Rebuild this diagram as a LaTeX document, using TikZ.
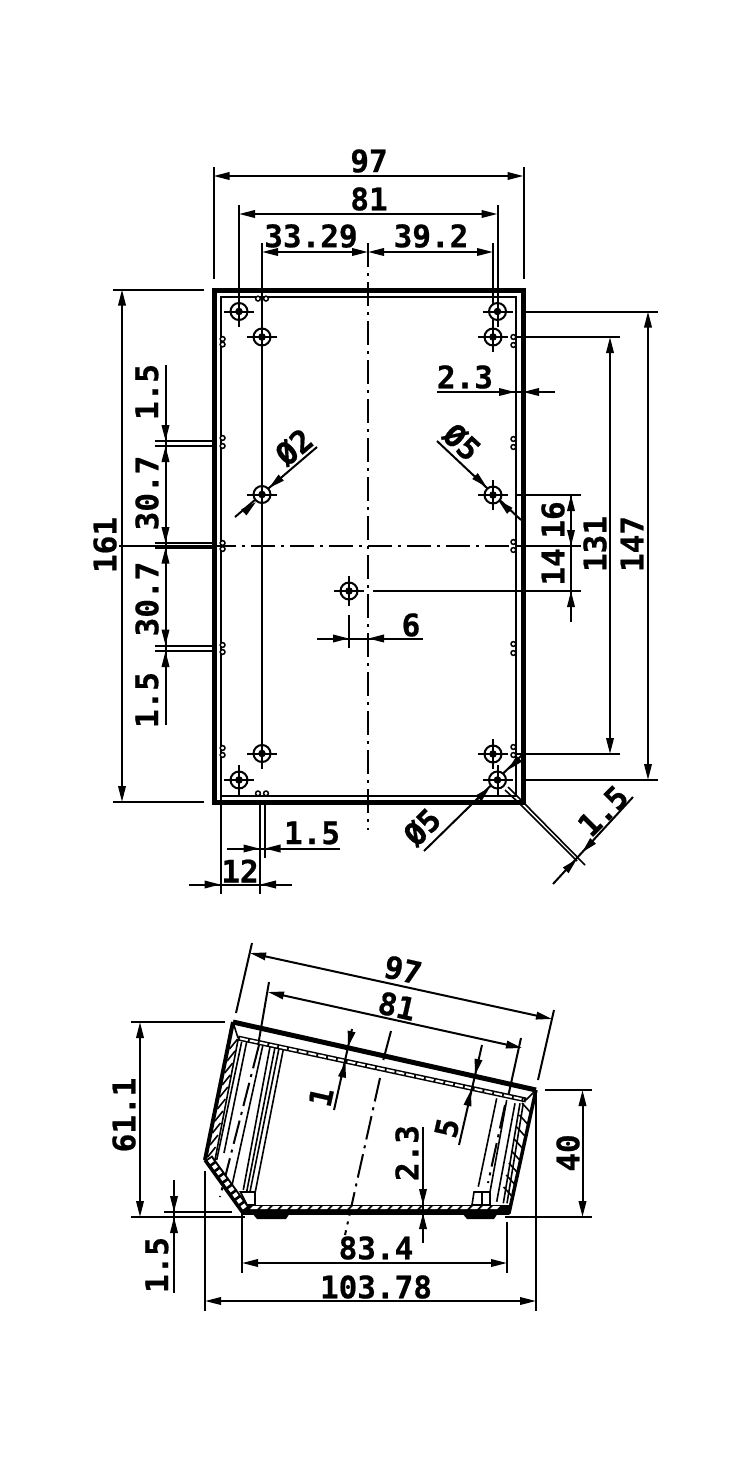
\documentclass[tikz,border=0pt]{standalone}
\usepackage{fontspec}
\setmainfont{DejaVu Sans Mono}[BoldFont={DejaVu Sans Mono Bold}]
\usetikzlibrary{arrows.meta,calc}
\newcommand{\lblfont}{\fontsize{31}{31}\selectfont\bfseries\addfontfeature{FakeBold=0.6}}
\tikzset{
  tipa/.tip={Triangle[length=16pt,width=7.5pt]},
  lbl/.style={font=\lblfont,inner sep=0pt,text=black},
  dimline/.style={line width=2pt,black},
  both/.style={dimline,tipa-tipa},
  toend/.style={dimline,-tipa},
  ext/.style={line width=2pt,black},
  dashdotline/.style={line width=2pt,black,dash pattern=on 24pt off 6pt on 3pt off 6pt},
  thin1/.style={line width=1.6pt,black},
}
\begin{document}
\begin{tikzpicture}[x=1pt,y=-1pt]
\useasboundingbox[fill=white] (0,0) rectangle (750,1462);

%% ---------- TOP VIEW ----------
\draw[line width=5pt,line join=miter] (214,290) rectangle (523,802);
\draw[line width=2pt] (220.5,296.5) rectangle (515.5,795.5);
% corner chamfer
\draw[thin1] (505,790) -- (520,804);
\draw[thin1] (508,787) -- (522,801);

% small pairs of circles
\foreach \y in {339,344.5,438,446,543,549,645,652,748,755}
  \draw[line width=1.5pt,fill=white] (222.6,\y) circle (2.4);
\foreach \y in {337,345,439,447,542,550,644,653,747,755}
  \draw[line width=1.5pt,fill=white] (513.4,\y) circle (2.4);
\foreach \x in {258,266} {
  \draw[line width=1.5pt,fill=white] (\x,298.6) circle (2.4);
  \draw[line width=1.5pt,fill=white] (\x,793.4) circle (2.4);
}

% centre lines
\draw[dashdotline] (368,243) -- (368,830);
\draw[dashdotline] (212,546) -- (512,546);
\draw[ext] (119,546) -- (212,546);
\draw[ext] (517,546) -- (581,546);

% extension lines top
\draw[ext] (213.5,167) -- (213.5,279);
\draw[ext] (523.5,167) -- (523.5,279);
\draw[ext] (239,205) -- (239,311);
\draw[ext] (497.5,205) -- (497.5,311);
\draw[ext] (262,243) -- (262,758);
\draw[ext] (493,243) -- (493,337);
\draw[ext] (239,780) -- (239,795);

% dims top
\draw[both] (213.5,176) -- (523.5,176);
\draw[both] (239,214) -- (497.5,214);
\draw[both] (262,252) -- (368,252);
\draw[both] (368,252) -- (493,252);
\node[lbl] (t97a) at (369,161) {97};
\node[lbl] (t81a) at (369,199) {81};
\node[lbl] (t3329) at (311,236) {33.29};
\node[lbl] (t392) at (431,236) {39.2};

% left dims
\draw[ext] (113,289.5) -- (204,289.5);
\draw[ext] (113,802) -- (204,802);
\draw[both] (122,289.5) -- (122,802);
\node[lbl,rotate=90] (t161) at (105,545) {161};

\foreach \y in {441,446,543,547.5,645.5,651}
  \draw[ext] (155,\y) -- (212,\y);
\draw[dimline] (165.5,365) -- (165.5,725);
\foreach \a/\b in {425/441, 462/446, 527/543, 563.5/547.5, 629.5/645.5, 667/651}
  \draw[toend] (165.5,\a) -- (165.5,\b);
\node[lbl,rotate=90] (t15a) at (147,392) {1.5};
\node[lbl,rotate=90] (t307a) at (147,493) {30.7};
\node[lbl,rotate=90] (t307b) at (147,599) {30.7};
\node[lbl,rotate=90] (t15b) at (147,700) {1.5};

% right dims
\draw[ext] (525,311.5) -- (658,311.5);
\draw[ext] (525,780) -- (658,780);
\draw[both] (648,311.5) -- (648,780);
\node[lbl,rotate=90] (t147) at (632,544) {147};
\draw[ext] (516,337) -- (619.5,337);
\draw[ext] (516,754) -- (619.5,754);
\draw[both] (610,337) -- (610,754);
\node[lbl,rotate=90] (t131) at (595,544) {131};
\draw[ext] (517,495) -- (581,495);
\draw[ext] (373,591) -- (581,591);
\draw[dimline] (571,495) -- (571,622);
\draw[toend] (571,511) -- (571,495);
\draw[toend] (571,530) -- (571,546);
\draw[toend] (571,607) -- (571,591);
\node[lbl,rotate=90] (t16) at (553,520) {16};
\node[lbl,rotate=90] (t14) at (553,567) {14};

% 2.3
\draw[dimline] (437,392) -- (555,392);
\draw[toend] (499,392) -- (515,392);
\draw[toend] (539,392) -- (523,392);
\node[lbl] (t23a) at (465,377) {2.3};

% diameters
\draw[dimline] (235,517) -- (317,447);
\draw[toend] (243.8,512.4) -- (256,502);
\draw[toend] (281.2,477.6) -- (269,488);
\node[lbl,rotate=40] (td2) at (294,447) {Ø2};

\draw[dimline] (437,441) -- (521,520);
\draw[toend] (475,476) -- (486.7,487);
\draw[toend] (510,511) -- (498,500);
\node[lbl,rotate=-43] (td5a) at (462,442) {Ø5};

\draw[dimline] (424,851) -- (523,754);
\draw[toend] (478,799) -- (490,787);
\draw[toend] (519,759) -- (508,770);
\node[lbl,rotate=45] (td5b) at (422,827) {Ø5};

% diagonal 1.5
\draw[thin1] (520,804) -- (577,861);
\draw[thin1] (522,801) -- (585,865);
\draw[dimline] (553,884) -- (633,797);
\draw[toend] (566,870) -- (577,859);
\draw[toend] (593,841) -- (582,852.5);
\node[lbl,rotate=45] (t15c) at (603,811) {1.5};

% 1.5 and 12 below
\draw[ext] (260,802) -- (260,894);
\draw[ext] (264.5,802) -- (264.5,858);
\draw[ext] (220.5,796) -- (220.5,894);
\draw[dimline] (227,848.5) -- (340,848.5);
\draw[toend] (243.5,848.5) -- (259.5,848.5);
\draw[toend] (280.5,848.5) -- (264.5,848.5);
\node[lbl] (t15d) at (312,833) {1.5};
\draw[dimline] (189,884.5) -- (292,884.5);
\draw[toend] (204.5,884.5) -- (220.5,884.5);
\draw[toend] (276,884.5) -- (260,884.5);
\node[lbl] (t12) at (240,871) {12};

% 6
\draw[ext] (349,615) -- (349,648);
\draw[dimline] (317,638.5) -- (423,638.5);
\draw[toend] (333,638.5) -- (349,638.5);
\draw[toend] (384,638.5) -- (368,638.5);
\node[lbl] (t6) at (411,625) {6};

% holes
\foreach \hx/\hy in {239/311.5,262/337,262/494.5,497.5/311.5,493/337,493/495,349/591,262/753.5,239/780,493/754,497.5/780} {
  \fill[white] (\hx,\hy) circle (8);
  \draw[line width=2pt] (\hx,\hy) circle (8.5);
  \fill (\hx,\hy) circle (3.8);
  \draw[line width=2pt] (\hx-15,\hy) -- (\hx+15,\hy) (\hx,\hy-15) -- (\hx,\hy+15);
}

%% ---------- SIDE VIEW ----------
% inner lines left group
\draw[thin1] (238,1040) -- (215,1160);
\draw[thin1] (241.7,1041.7) -- (216.7,1160);
\draw[thin1] (246.7,1041.7) -- (224,1153);
\draw[thin1] (263.3,1043.3) -- (231.7,1186.7);
\draw[thin1] (270,1046.7) -- (243.3,1190);
\draw[thin1] (275,1047.3) -- (246.7,1191.7);
\draw[thin1] (279,1048.3) -- (250,1191.7);
\draw[thin1] (283.3,1049.3) -- (255,1193.3);
% inner lines right group
\draw[thin1] (496.7,1098.3) -- (478.3,1186.7);
\draw[thin1] (506.7,1100) -- (490,1192);
\draw[thin1] (515,1103.3) -- (496.7,1201.7);
\draw[thin1] (520,1103.3) -- (503.3,1203.3);
\draw[thin1] (523.3,1103.3) -- (507,1203.3);

% centre/hole lines (tilted)
\draw[ext] (269,982) -- (259,1040);
\draw[dashdotline] (259,1045) -- (220,1197);
\draw[ext] (521,1038) -- (508,1097);
\draw[dashdotline] (505,1105) -- (488,1183);
\draw[ext] (391,1031) -- (383.3,1060);
\draw[dashdotline] (380,1078) -- (345,1235);

% posts
\draw[thin1,fill=white] (240.5,1192) -- (255,1192) -- (255,1205) -- (247,1205) -- cycle;
\draw[thin1,fill=white] (474,1192) -- (490,1192) -- (490,1205) -- (472,1205) -- cycle;
\draw[thin1] (482,1192) -- (482,1205);

% walls hatching
\foreach \y in {1044,1056,...,1152}
  \draw[thin1] ({233-(\y-1022)*0.2029+1},{\y+5}) -- ({233-(\y-1022)*0.2029+9},{\y-5});
\foreach \y in {1108,1120,...,1200}
  \draw[thin1] ({536-(\y-1090)*0.2195-1},{\y+5}) -- ({536-(\y-1090)*0.2195-10},{\y-5});

% lid under-line
\draw[line width=5pt] (238,1038) -- (526,1100);
\draw[white,line width=2pt,dash pattern=on 8pt off 2pt] (240,1038.4) -- (524,1099.6);

% bottom
\fill (243,1205) rectangle (509,1213);
\foreach \x in {250,260,...,495}
  \fill[white] (\x,1209) -- (\x+7,1209) -- (\x+10,1206.2) -- (\x+3,1206.2) -- cycle;
% chamfer band
\draw[line width=9pt] (208.5,1158) -- (246.5,1210.7);
\draw[white,line width=5pt,dash pattern=on 4pt off 3pt] (209.5,1159.5) -- (245,1208.5);

% feet
\fill (252,1213) -- (290,1213) -- (286,1219) -- (257,1219) -- cycle;
\fill (462,1213) -- (498,1213) -- (494,1219) -- (467,1219) -- cycle;

% outline
\draw[line width=5pt,line join=round] (233,1022) -- (536,1090);
\draw[line width=4pt,line join=round] (205,1160) -- (233,1022);
\draw[line width=3.5pt,line join=round] (536,1090) -- (509,1213) -- (243,1213) -- (205,1160);
\draw[thin1] (233,1022) -- (238,1038);
\draw[thin1] (536,1090) -- (526,1100);

% extension lines
\draw[ext] (131,1022) -- (225,1022);
\draw[ext] (131,1217) -- (245,1217);
\draw[ext] (505,1217) -- (592,1217);
\draw[ext] (164,1212) -- (232,1212);
\draw[ext] (545,1090) -- (592,1090);
\draw[ext] (242,1212) -- (242,1273);
\draw[ext] (507,1222) -- (507,1273);
\draw[ext] (205,1171) -- (205,1311);
\draw[ext] (536,1092) -- (536,1311);
\draw[ext] (252,943) -- (236,1013);
\draw[ext] (554,1010) -- (538,1080);

% dims side
\draw[both] (140,1022) -- (140,1217);
\node[lbl,rotate=90] (t611) at (124,1115) {61.1};
\draw[dimline] (174,1180) -- (174,1293);
\draw[toend] (174,1196) -- (174,1212);
\draw[toend] (174,1233) -- (174,1217);
\node[lbl,rotate=90] (t15e) at (157,1265) {1.5};
\draw[both] (242,1263) -- (507,1263);
\node[lbl] (t834) at (376,1248) {83.4};
\draw[both] (205,1301) -- (536,1301);
\node[lbl] (t10378) at (376,1287) {103.78};
\draw[both] (582.5,1090) -- (582.5,1217);
\node[lbl,rotate=90] (t40) at (568,1153) {40};
\draw[dimline] (423,1127) -- (423,1243);
\draw[toend] (423,1189) -- (423,1205);
\draw[toend] (423,1229) -- (423,1213);
\node[lbl,rotate=90] (t23b) at (407,1153) {2.3};

\draw[both] (250,953) -- (552,1019);
\node[lbl,rotate=-12.65] (t97b) at (403,970) {97};
\draw[both] (268,992) -- (522,1048);
\node[lbl,rotate=-12.65] (t81b) at (397,1006) {81};

\draw[dimline] (352,1029) -- (334,1110);
\draw[toend] (351.5,1032) -- (348,1047);
\draw[toend] (342,1077) -- (345.5,1061.5);
\node[lbl,rotate=77.35] (t1b) at (321,1097) {1};
\draw[dimline] (482,1045) -- (459,1145);
\draw[toend] (478.5,1059.5) -- (475,1075);
\draw[toend] (467.5,1105.5) -- (471,1090);
\node[lbl,rotate=77.35] (t5) at (447,1128) {5};
\end{tikzpicture}
\end{document}
